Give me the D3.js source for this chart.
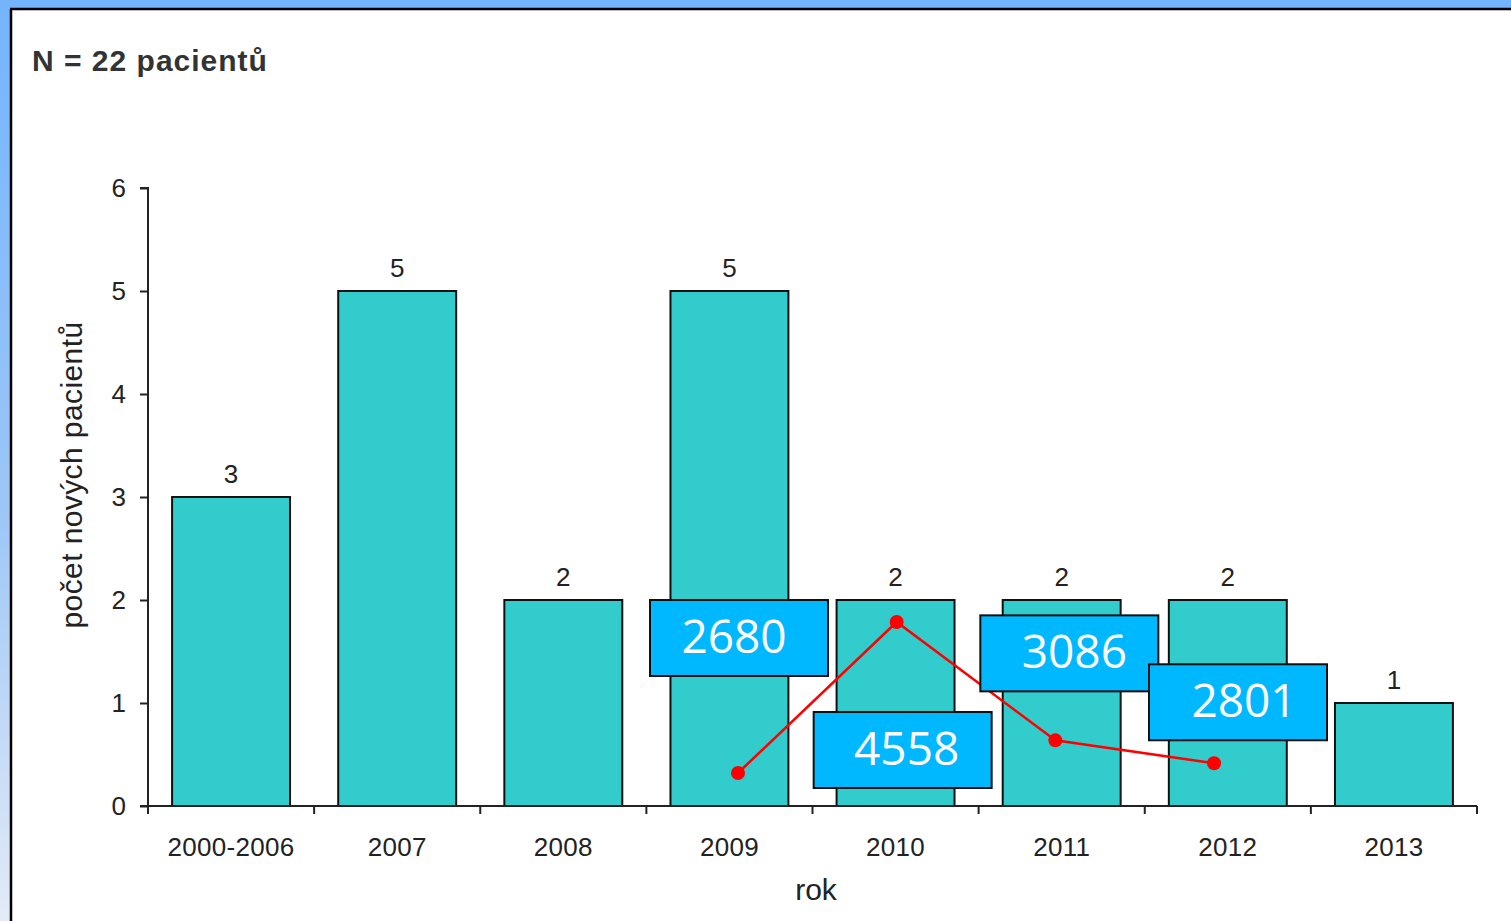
<!DOCTYPE html>
<html><head><meta charset="utf-8">
<script src="https://cdn.jsdelivr.net/npm/d3@7"></script>
<style>html,body{margin:0;padding:0;background:#fff;overflow:hidden}</style>
</head><body>
<script>
// ---- data ----
const categories = ["2000-2006","2007","2008","2009","2010","2011","2012","2013"];
const barValues = [3,5,2,5,2,2,2,1];
const yTicks = [0,1,2,3,4,5,6];
const lineYears = ["2009","2010","2011","2012"];
const lineValues = [2680,4558,3086,2801];
const title = "N = 22 pacientů";
const yTitle = "počet nových pacientů";
const xTitle = "rok";

// ---- layout ----
const W = 1511, H = 921;
const svg = d3.select("body").append("svg").attr("width",W).attr("height",H);
const defs = svg.append("defs");
const grad = defs.append("linearGradient").attr("id","lg").attr("x1",0).attr("y1",0).attr("x2",0).attr("y2",1);
grad.append("stop").attr("offset","0%").attr("stop-color","#74b4ff");
grad.append("stop").attr("offset","55%").attr("stop-color","#9cc6f6");
grad.append("stop").attr("offset","100%").attr("stop-color","#e3ebf6");

svg.append("rect").attr("x",0).attr("y",0).attr("width",W).attr("height",H).attr("fill","#fff");
svg.append("rect").attr("x",0).attr("y",0).attr("width",11).attr("height",H).attr("fill","url(#lg)");
svg.append("rect").attr("x",0).attr("y",0).attr("width",W).attr("height",8).attr("fill","#74b4fc");
svg.append("line").attr("x1",11).attr("x2",11).attr("y1",9).attr("y2",H).attr("stroke","#000").attr("stroke-width",2.5);
svg.append("line").attr("x1",10).attr("x2",W).attr("y1",9).attr("y2",9).attr("stroke","#000").attr("stroke-width",2.5);

const font = "Liberation Sans, Arial, sans-serif";

svg.append("text").attr("x",32).attr("y",71).text(title)
  .attr("font-family",font).attr("font-weight","bold")
  .attr("font-size",30).attr("letter-spacing",1).attr("fill","#333");

const x0 = 148, x1 = 1477, yBase = 806, yTop = 188;
const x = d3.scaleBand().domain(categories).range([x0,x1]).paddingInner(0.29).paddingOuter(0.145);
const xb = d3.scaleBand().domain(categories).range([x0,x1]);
const y = d3.scaleLinear().domain([0,6]).range([yBase,yTop]);

const g = svg.append("g");

// bars
g.selectAll("rect.bar").data(categories).join("rect").attr("class","bar")
  .attr("x",d=>x(d)).attr("width",x.bandwidth())
  .attr("y",(d,i)=>y(barValues[i])).attr("height",(d,i)=>yBase-y(barValues[i]))
  .attr("fill","#33cccc").attr("stroke","#111").attr("stroke-width",2);

// bar value labels
g.selectAll("text.val").data(categories).join("text").attr("class","val")
  .attr("x",d=>x(d)+x.bandwidth()/2).attr("y",(d,i)=>y(barValues[i])-14)
  .attr("text-anchor","middle").attr("font-family",font).attr("font-size",26).attr("fill","#222")
  .text((d,i)=>barValues[i]);

// y axis
const yAxis = d3.axisLeft(y).tickValues(yTicks).tickFormat(d3.format("d")).tickSize(8).tickPadding(14);
const ya = svg.append("g").attr("transform",`translate(${x0},0)`).call(yAxis);
ya.select(".domain").attr("stroke","#222").attr("stroke-width",2).attr("d",`M-8,${yTop}H0V${yBase}`);
ya.selectAll(".tick line").attr("stroke","#222").attr("stroke-width",2);
ya.selectAll(".tick text").attr("font-family",font).attr("font-size",26).attr("fill","#222");

// x axis: ticks at band boundaries
const xa = svg.append("g");
xa.append("line").attr("x1",x0-8).attr("x2",x1).attr("y1",yBase).attr("y2",yBase).attr("stroke","#222").attr("stroke-width",2);
const bounds = categories.map(c=>xb(c)).concat([x1]);
xa.selectAll("line.t").data(bounds).join("line").attr("class","t")
  .attr("x1",d=>d).attr("x2",d=>d).attr("y1",yBase).attr("y2",yBase+8).attr("stroke","#222").attr("stroke-width",2);
xa.selectAll("text").data(categories).join("text")
  .attr("x",d=>xb(d)+xb.bandwidth()/2).attr("y",856).attr("text-anchor","middle")
  .attr("font-family",font).attr("font-size",26).attr("letter-spacing",0.3).attr("fill","#222").text(d=>d);

svg.append("text").attr("x",816).attr("y",900).attr("text-anchor","middle")
  .attr("font-family",font).attr("font-size",30).attr("fill","#222").text(xTitle);
svg.append("text").attr("transform","translate(82,475) rotate(-90)").attr("text-anchor","middle")
  .attr("font-family",font).attr("font-size",30).attr("letter-spacing",0.4).attr("fill","#222").text(yTitle);

// red line (separate overlay scale)
const lx = d3.scalePoint().domain(lineYears).range([738,1214]);
const ly = d3.scaleLinear().domain([2680,4558]).range([773,622]);
const line = d3.line().x((d,i)=>lx(lineYears[i])).y(d=>ly(d));
svg.append("path").datum(lineValues).attr("d",line).attr("fill","none").attr("stroke","#ff0000").attr("stroke-width",2.5);
svg.selectAll("circle.pt").data(lineValues).join("circle").attr("class","pt")
  .attr("cx",(d,i)=>lx(lineYears[i])).attr("cy",d=>ly(d)).attr("r",7).attr("fill","#ff0000");

// callout boxes
const boxOffsets = [[1,-135],[6,128],[14,-87],[24,-61]];
const textOffsets = [-5,4,5,6];
const bw = 178, bh = 76;
const boxes = svg.selectAll("g.box").data(lineValues).join("g").attr("class","box")
  .attr("transform",(d,i)=>`translate(${lx(lineYears[i])+boxOffsets[i][0]},${ly(d)+boxOffsets[i][1]})`);
boxes.append("rect").attr("x",-bw/2).attr("y",-bh/2).attr("width",bw).attr("height",bh)
  .attr("fill","#00b8ff").attr("stroke","#111").attr("stroke-width",2);
boxes.append("text").attr("x",(d,i)=>textOffsets[i]).attr("y",15).attr("text-anchor","middle")
  .attr("font-family","Open Sans, sans-serif").attr("font-size",46).attr("fill","#fff")
  .text(d=>d);
</script>
</body></html>
